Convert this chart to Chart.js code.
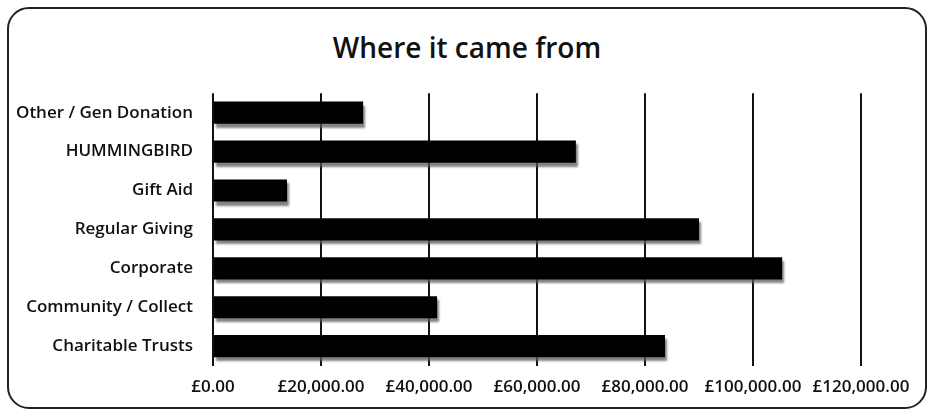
<!DOCTYPE html>
<html lang="en">
<head>
  <meta charset="UTF-8" />
  <title>Where it came from</title>
  <script src="https://cdn.jsdelivr.net/npm/chart.js"></script>
  <style>
    html, body { margin: 0; padding: 0; background: #fff; }
    .card {
      position: absolute; left: 7px; top: 7px; width: 916px; height: 398px;
      border: 2px solid #222; border-radius: 22px; background: #fff;
    }
    .card h2 {
      margin: 0; height: 62px; line-height: 76px; text-align: center;
      font-family: "Open Sans", sans-serif; font-size: 28px; font-weight: 600; color: #111;
    }
    canvas { display: block; }
  </style>
</head>
<body>
  <div class="card">
    <h2>Where it came from</h2>
    <canvas id="incomeChart" width="916" height="337"></canvas>
  </div>

  <script>
    // data
    const categories = [
      "Other / Gen Donation",
      "HUMMINGBIRD",
      "Gift Aid",
      "Regular Giving",
      "Corporate",
      "Community / Collect",
      "Charitable Trusts"
    ];
    const amounts = [27800, 67200, 13700, 90000, 105400, 41500, 83700];
    const tickValues = [0, 20000, 40000, 60000, 80000, 100000, 120000];

    // grey shadow under the bars, like the spreadsheet style
    const barShadow = {
      id: "barShadow",
      beforeDatasetsDraw(chart) {
        const ctx = chart.ctx;
        ctx.save();
        ctx.shadowColor = "rgba(90,90,90,0.75)";
        ctx.shadowOffsetX = 2;
        ctx.shadowOffsetY = 4;
        ctx.shadowBlur = 2;
      },
      afterDatasetsDraw(chart) {
        chart.ctx.restore();
      }
    };

    const fmt = v => "£" + v.toLocaleString("en-GB", { minimumFractionDigits: 2, maximumFractionDigits: 2 });

    new Chart(document.getElementById("incomeChart"), {
      type: "bar",
      data: {
        labels: categories,
        datasets: [{
          data: amounts,
          backgroundColor: "#000",
          borderWidth: 0,
          categoryPercentage: 0.6,
          barPercentage: 0.95
        }]
      },
      plugins: [barShadow],
      options: {
        indexAxis: "y",
        responsive: false,
        animation: false,
        layout: { padding: { left: 8, right: 64, top: 1, bottom: 0 } },
        plugins: {
          legend: { display: false },
          tooltip: { enabled: false }
        },
        scales: {
          x: {
            min: 0,
            max: 120000,
            afterBuildTicks: axis => { axis.ticks = tickValues.map(v => ({ value: v })); },
            grid: { color: "#111", lineWidth: 2, drawTicks: false },
            border: { display: false },
            ticks: {
              color: "#111",
              padding: 11,
              maxRotation: 0,
              font: { family: "Open Sans", size: 17, weight: "600" },
              callback: v => fmt(v)
            }
          },
          y: {
            grid: { display: false },
            border: { display: false },
            afterFit: axis => { axis.width = 196; },
            ticks: {
              color: "#111",
              padding: 12,
              font: { family: "Open Sans", size: 17, weight: "600" }
            }
          }
        }
      }
    });
  </script>
</body>
</html>
